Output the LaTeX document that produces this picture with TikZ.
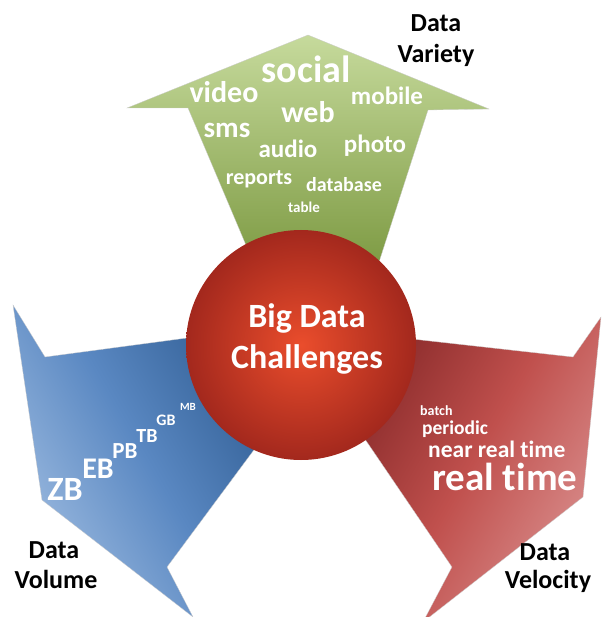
\documentclass[tikz,border=0pt]{standalone}
\usepackage{fontspec}
\setmainfont{Carlito}[Ligatures=NoCommon]
\newcommand\fsz[1]{\fontsize{#1}{#1}\selectfont}
\definecolor{grnlight}{HTML}{C6DA9C}
\definecolor{grndark}{HTML}{76943A}
\definecolor{blulight}{HTML}{9DBBE0}
\definecolor{blumid}{HTML}{5A88C2}
\definecolor{bludark}{HTML}{2F5C92}
\definecolor{redlight}{HTML}{D98E8D}
\definecolor{redmid}{HTML}{C0504D}
\definecolor{reddark}{HTML}{862828}
\definecolor{ballin}{HTML}{EA4D2C}
\definecolor{ballout}{HTML}{A3281D}
\tikzset{
  word/.style={text=white, font=\bfseries, anchor=base, inner sep=0pt},
  caption/.style={text=black, font=\bfseries\fsz{26}, anchor=base, inner sep=0pt},
  arrowshape/.style={draw=gray!40, line width=0.3pt},
}
\begin{document}
\begin{tikzpicture}[x=1pt,y=-1pt]
\useasboundingbox (0,0) rectangle (601,617);

% Data Variety: upward arrow
\path[arrowshape, top color=grnlight, bottom color=grndark]
  (308,35) -- (489,109) -- (428,110) -- (370,290) -- (265,290)
  -- (188,108) -- (127,108) -- cycle;

% Data Volume: arrow towards the lower left, light at its head
\path[arrowshape, top color=blulight, bottom color=bludark, middle color=blumid,
      shading angle=120]
  (13,305) -- (45,357) -- (262,328) -- (282,412) -- (167,567)
  -- (193,617) -- (42,500) -- cycle;

% Data Velocity: arrow towards the lower right, light at its head
\path[arrowshape, top color=reddark, bottom color=redlight, middle color=redmid,
      shading angle=60]
  (601,317) -- (573,357) -- (340,331) -- (335,395) -- (452,567)
  -- (423,622) -- (583,497) -- cycle;

% central sphere
\node[circle, minimum size=230pt, inner sep=0pt,
      inner color=ballin, outer color=ballout] (ball) at (301,345) {};
\node[word, font=\bfseries\fsz{34}] (big) at (307,327) {Big Data};
\node[word, font=\bfseries\fsz{34}] (chal) at (307,368) {Challenges};

% variety words
\node[word, font=\bfseries\fsz{38}] (social) at (306,83) {social};
\node[word, font=\bfseries\fsz{30}] (video) at (224,103) {video};
\node[word, font=\bfseries\fsz{25}] (mobile) at (387,105) {mobile};
\node[word, font=\bfseries\fsz{30}] (web) at (308,123) {web};
\node[word, font=\bfseries\fsz{29}] (sms) at (227,138) {sms};
\node[word, font=\bfseries\fsz{25}] (audio) at (288,158) {audio};
\node[word, font=\bfseries\fsz{25}] (photo) at (375,153) {photo};
\node[word, font=\bfseries\fsz{22}] (reports) at (259,185) {reports};
\node[word, font=\bfseries\fsz{20}] (database) at (344,192) {database};
\node[word, font=\bfseries\fsz{15}] (table) at (304,213) {table};

% volume units
\node[word, font=\bfseries\fsz{34}] (zb) at (65,500) {ZB};
\node[word, font=\bfseries\fsz{30}] (eb) at (98,478) {EB};
\node[word, font=\bfseries\fsz{23}] (pb) at (125,458) {PB};
\node[word, font=\bfseries\fsz{20}] (tb) at (147,442) {TB};
\node[word, font=\bfseries\fsz{16}] (gb) at (166,425) {GB};
\node[word, font=\bfseries\fsz{11}] (mb) at (188,410) {MB};

% velocity words
\node[word, anchor=base west, font=\bfseries\fsz{14}] (batch) at (420,415) {batch};
\node[word, anchor=base west, font=\bfseries\fsz{19.5}] (periodic) at (422,434) {periodic};
\node[word, anchor=base west, font=\bfseries\fsz{23.5}] (nrt) at (428,457) {near real time};
\node[word, anchor=base west, font=\bfseries\fsz{39}] (rt) at (432,490) {real time};

% captions
\node[caption] (var1) at (436,32) {Data};
\node[caption] (var2) at (436,63) {Variety};
\node[caption] (vol1) at (54,558) {Data};
\node[caption] (vol2) at (56,588) {Volume};
\node[caption] (vel1) at (545,560) {Data};
\node[caption] (vel2) at (548,588) {Velocity};
\end{tikzpicture}
\end{document}
